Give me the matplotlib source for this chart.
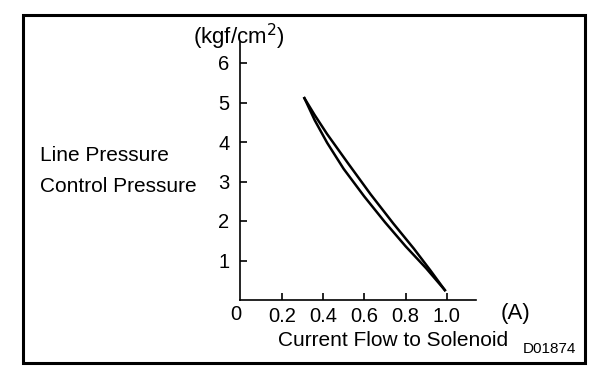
import matplotlib.pyplot as plt
from matplotlib.patches import Rectangle

plt.rcParams['font.family'] = ['Liberation Sans', 'DejaVu Sans']

# line pressure / control pressure vs solenoid current (two branches of the curve)
current_up = [0.31, 0.36, 0.42, 0.52, 0.63, 0.74, 0.84, 0.92, 0.99]
pressure_up = [5.11, 4.68, 4.20, 3.47, 2.68, 1.94, 1.30, 0.75, 0.25]
current_down = [0.31, 0.36, 0.42, 0.50, 0.60, 0.70, 0.80, 0.90, 0.99]
pressure_down = [5.11, 4.55, 3.98, 3.32, 2.62, 1.97, 1.36, 0.80, 0.25]

x_ticks = [0.2, 0.4, 0.6, 0.8, 1.0]
x_labels = ['0.2', '0.4', '0.6', '0.8', '1.0']
y_ticks = [1, 2, 3, 4, 5, 6]

fig = plt.figure(figsize=(6.08, 3.8), dpi=100)
ax = fig.add_axes([240.4 / 608, 80 / 380, 236 / 608, 258 / 380])

ax.plot(current_up, pressure_up, color='black', lw=1.8, solid_joinstyle='round')
ax.plot(current_down, pressure_down, color='black', lw=1.8, solid_joinstyle='round')

ax.set_xlim(0, 236 / 206.5)
ax.set_ylim(0, 258 / 39.5)
ax.spines['top'].set_visible(False)
ax.spines['right'].set_visible(False)
ax.spines['left'].set_linewidth(1.2)
ax.spines['bottom'].set_linewidth(1.2)

ax.set_xticks(x_ticks)
ax.set_xticklabels(x_labels)
ax.set_yticks(y_ticks)
ax.tick_params(axis='both', direction='in', length=5, width=1.2, labelsize=14.5, pad=5)
ax.tick_params(axis='y', pad=8)

# extra labels
ax.text(-0.02, -0.12, '0', ha='center', va='top', fontsize=14.5, transform=ax.transData)
fig.text(239 / 608, 1 - 37 / 380, '(kgf/cm$^2$)', ha='center', va='center', fontsize=16)
fig.text(515 / 608, 1 - 313 / 380, '(A)', ha='center', va='center', fontsize=16)
fig.text(40 / 608, 1 - 156 / 380, 'Line Pressure', ha='left', va='center', fontsize=15)
fig.text(40 / 608, 1 - 186 / 380, 'Control Pressure', ha='left', va='center', fontsize=15)
fig.text(393 / 608, 1 - 341 / 380, 'Current Flow to Solenoid', ha='center', va='center', fontsize=15)
fig.text(549 / 608, 1 - 349 / 380, 'D01874', ha='center', va='center', fontsize=11)

fig.patches.append(Rectangle((23 / 608, 1 - 363 / 380), (585 - 23) / 608, (363 - 15) / 380,
                             transform=fig.transFigure, fill=False, edgecolor='black', lw=2.2))

fig.savefig('out.png', dpi=100)
